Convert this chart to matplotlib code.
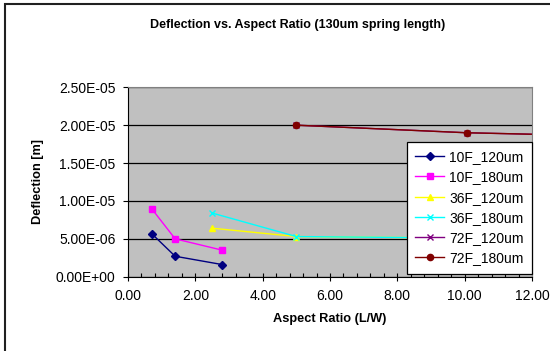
import matplotlib
matplotlib.use("Agg")
import matplotlib.pyplot as plt
import matplotlib.ticker as ticker
from matplotlib.patches import Rectangle

plt.rcParams["font.family"] = ["Liberation Sans", "DejaVu Sans"]

# ── data ─────────────────────────────────────────────────────────────────────
x_10f = [0.7, 1.4, 2.8]
y_10f_120 = [5.7e-6, 2.7e-6, 1.6e-6]
y_10f_180 = [9.0e-6, 5.0e-6, 3.5e-6]

x_36f = [2.5, 5.0, 10.0]
y_36f_120 = [6.4e-6, 5.3e-6, 5.1e-6]
y_36f_180 = [8.4e-6, 5.3e-6, 5.1e-6]

x_72f = [5.0, 10.06, 20.0]
y_72f_120 = [2.0e-5, 1.9e-5, 1.80e-5]
y_72f_180 = [2.0e-5, 1.9e-5, 1.80e-5]

series = [
    ("10F_120um", x_10f, y_10f_120, "#000080", "D", 4),
    ("10F_180um", x_10f, y_10f_180, "#FF00FF", "s", 4.5),
    ("36F_120um", x_36f, y_36f_120, "#FFFF00", "^", 5),
    ("36F_180um", x_36f, y_36f_180, "#00FFFF", "x", 5),
    ("72F_120um", x_72f, y_72f_120, "#800080", "x", 5),
    ("72F_180um", x_72f, y_72f_180, "#800000", "o", 4.5),
]

# ── plot ─────────────────────────────────────────────────────────────────────
fig = plt.figure(figsize=(5.5, 3.51), dpi=100)
fig.patches.append(Rectangle((5 / 550, -0.1), 1.2, 1 - 4 / 351 + 0.1,
                             transform=fig.transFigure, fill=False,
                             edgecolor="#202020", lw=1.5))

ax = fig.add_axes([128 / 550, 1 - 276.7 / 351, 404 / 550, (276.7 - 87.3) / 351])
ax.set_facecolor("#C0C0C0")

for label, xs, ys, col, mk, ms in series:
    ax.plot(xs, ys, color=col, marker=mk, markersize=ms, lw=1.0,
            markeredgewidth=1.0, label=label)

ax.set_xlim(0, 12)
ax.set_ylim(0, 2.5e-5)
ax.xaxis.set_major_locator(ticker.MultipleLocator(2))
ax.xaxis.set_minor_locator(ticker.MultipleLocator(0.4))
ax.yaxis.set_major_locator(ticker.MultipleLocator(5e-6))
ax.xaxis.set_major_formatter(ticker.FuncFormatter(lambda v, _: f"{v:.2f}"))
ax.yaxis.set_major_formatter(ticker.FuncFormatter(lambda v, _: f"{v:.2E}"))

ax.grid(axis="y", color="black", lw=0.9)
ax.set_axisbelow(True)
ax.tick_params(axis="both", labelsize=10, width=0.8)
ax.tick_params(axis="y", direction="out", length=3.6, pad=5.5)
ax.tick_params(axis="x", which="minor", direction="in", length=3, width=0.8)
ax.tick_params(axis="x", which="major", direction="inout", length=6, pad=6)

for s in ("top", "right"):
    ax.spines[s].set_color("#808080")
for s in ("left", "bottom"):
    ax.spines[s].set_color("black")

ax.set_xlabel("Aspect Ratio (L/W)", fontsize=9.2, fontweight="bold", labelpad=7)
ax.set_ylabel("Deflection [m]", fontsize=9.2, fontweight="bold", labelpad=8)

leg = ax.legend(loc="upper right", bbox_to_anchor=(1.0, (276.7 - 141.7) / 189.4),
                fontsize=10, frameon=True, fancybox=False, framealpha=1,
                edgecolor="black", handlelength=2.1, borderpad=0.6,
                labelspacing=0.45, handletextpad=0.35, borderaxespad=0)
leg.get_frame().set_linewidth(0.9)

fig.text(298 / 550, 1 - 25 / 351, "Deflection vs. Aspect Ratio (130um spring length)",
         ha="center", va="center", fontsize=9, fontweight="bold")

fig.savefig("out.png", dpi=100)
